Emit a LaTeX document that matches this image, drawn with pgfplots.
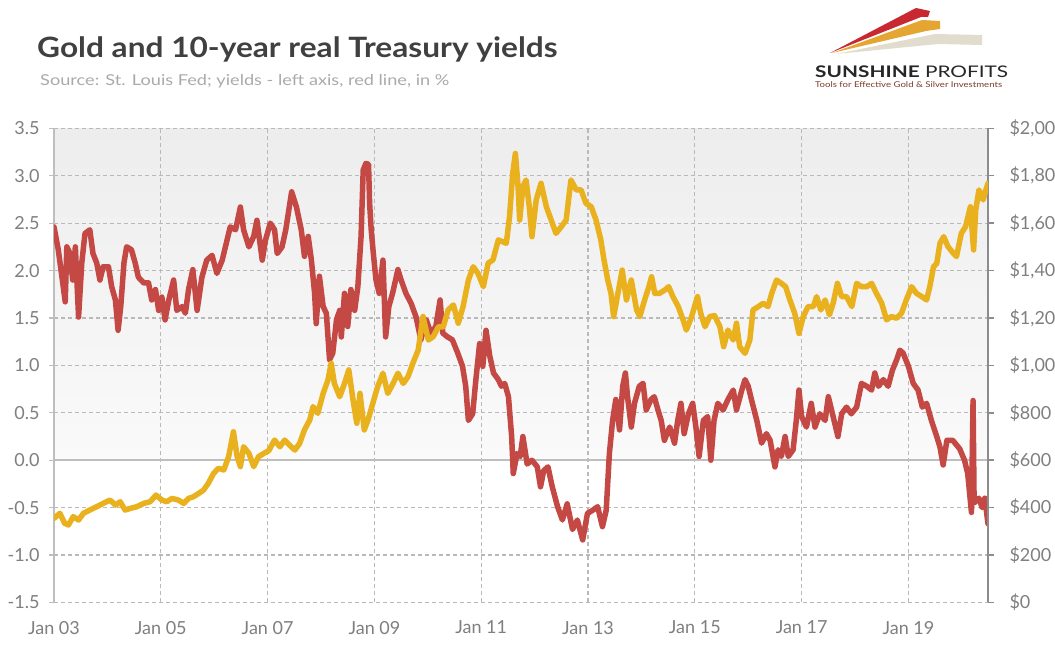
\documentclass[border=0pt]{standalone}
\usepackage{fontspec}
\setmainfont{Lato}
\usepackage{graphicx}
\usepackage{pgfplots}
\usepackage{pgfplotstable}
\pgfplotsset{compat=1.18}
\definecolor{redl}{RGB}{196,72,68}
\definecolor{goldl}{RGB}{233,177,30}
\definecolor{gridc}{RGB}{185,185,185}
\definecolor{tickc}{RGB}{127,127,127}
\definecolor{titlec}{RGB}{64,64,64}
\definecolor{subc}{RGB}{170,170,170}
\definecolor{axl}{RGB}{190,190,190}
\definecolor{axr}{RGB}{140,140,140}
\definecolor{logored}{RGB}{200,40,50}
\definecolor{logogold}{RGB}{228,165,50}
\definecolor{logobeige}{RGB}{225,220,205}
\definecolor{logotag}{RGB}{125,60,45}

\pgfplotstableread{
t v
2003.00 2.46
2003.08 2.22
2003.14 1.97
2003.21 1.67
2003.24 2.25
2003.30 2.18
2003.35 1.90
2003.40 2.25
2003.46 1.51
2003.52 2.08
2003.58 2.39
2003.67 2.43
2003.73 2.18
2003.80 2.08
2003.86 1.90
2003.92 2.04
2004.02 2.04
2004.08 1.83
2004.15 1.69
2004.20 1.37
2004.25 1.62
2004.31 2.08
2004.36 2.25
2004.45 2.22
2004.52 2.08
2004.58 1.93
2004.68 1.87
2004.77 1.87
2004.83 1.69
2004.90 1.80
2004.96 1.58
2005.02 1.72
2005.08 1.48
2005.15 1.69
2005.24 1.90
2005.30 1.58
2005.40 1.62
2005.46 1.55
2005.52 1.80
2005.60 2.01
2005.68 1.58
2005.77 1.93
2005.86 2.11
2005.96 2.16
2006.05 1.97
2006.15 2.11
2006.21 2.25
2006.30 2.46
2006.40 2.43
2006.49 2.67
2006.55 2.43
2006.65 2.25
2006.74 2.36
2006.80 2.53
2006.90 2.11
2006.96 2.32
2007.05 2.50
2007.13 2.43
2007.18 2.18
2007.27 2.25
2007.34 2.43
2007.45 2.83
2007.54 2.67
2007.63 2.43
2007.69 2.15
2007.76 2.36
2007.82 2.11
2007.88 1.76
2007.91 1.44
2007.97 1.94
2008.04 1.62
2008.10 1.55
2008.16 1.06
2008.22 1.13
2008.29 1.48
2008.35 1.58
2008.38 1.30
2008.44 1.76
2008.50 1.41
2008.56 1.80
2008.63 1.58
2008.69 1.83
2008.75 2.36
2008.79 3.06
2008.84 3.13
2008.89 3.12
2008.91 2.71
2008.94 2.43
2008.98 2.18
2009.03 1.90
2009.09 1.76
2009.16 2.11
2009.21 1.30
2009.27 1.62
2009.34 1.76
2009.44 2.01
2009.50 1.90
2009.59 1.76
2009.69 1.65
2009.78 1.51
2009.87 1.27
2009.97 1.48
2010.06 1.34
2010.15 1.41
2010.23 1.69
2010.28 1.34
2010.37 1.30
2010.46 1.27
2010.56 1.13
2010.65 0.99
2010.71 0.78
2010.76 0.42
2010.84 0.49
2010.90 0.85
2010.97 1.23
2011.03 0.99
2011.09 1.37
2011.16 1.10
2011.23 0.92
2011.32 0.85
2011.38 0.78
2011.44 0.81
2011.51 0.67
2011.57 0.25
2011.60 -0.14
2011.67 0.07
2011.73 0.04
2011.78 0.25
2011.86 -0.04
2011.95 0.00
2012.05 -0.07
2012.11 -0.28
2012.17 -0.11
2012.25 -0.07
2012.33 -0.28
2012.43 -0.49
2012.52 -0.63
2012.61 -0.46
2012.71 -0.73
2012.80 -0.63
2012.90 -0.84
2012.99 -0.56
2013.08 -0.53
2013.18 -0.49
2013.27 -0.70
2013.34 -0.53
2013.40 0.07
2013.46 0.42
2013.52 0.64
2013.59 0.32
2013.65 0.78
2013.70 0.92
2013.74 0.67
2013.81 0.35
2013.87 0.60
2013.96 0.78
2014.03 0.81
2014.09 0.53
2014.18 0.64
2014.24 0.67
2014.31 0.53
2014.37 0.42
2014.43 0.21
2014.53 0.35
2014.62 0.18
2014.68 0.42
2014.74 0.60
2014.80 0.28
2014.88 0.49
2014.96 0.60
2015.02 0.35
2015.08 0.04
2015.16 0.42
2015.24 0.46
2015.30 0.00
2015.36 0.42
2015.43 0.60
2015.53 0.53
2015.62 0.64
2015.72 0.74
2015.78 0.53
2015.88 0.74
2015.94 0.85
2016.00 0.78
2016.06 0.64
2016.16 0.42
2016.25 0.18
2016.34 0.28
2016.41 0.21
2016.50 -0.07
2016.56 0.11
2016.62 0.04
2016.69 0.25
2016.75 0.04
2016.84 0.11
2016.90 0.42
2016.95 0.74
2017.00 0.46
2017.09 0.35
2017.18 0.60
2017.25 0.35
2017.34 0.49
2017.44 0.42
2017.50 0.67
2017.59 0.46
2017.68 0.25
2017.75 0.49
2017.84 0.56
2017.93 0.49
2018.03 0.56
2018.12 0.81
2018.22 0.78
2018.31 0.74
2018.37 0.92
2018.44 0.78
2018.53 0.85
2018.62 0.78
2018.70 0.95
2018.78 1.06
2018.84 1.16
2018.90 1.13
2019.00 0.99
2019.09 0.81
2019.18 0.74
2019.26 0.56
2019.34 0.60
2019.43 0.42
2019.53 0.25
2019.59 0.14
2019.65 -0.05
2019.72 0.21
2019.83 0.21
2019.96 0.12
2020.05 0.00
2020.11 -0.14
2020.18 -0.55
2020.21 0.63
2020.23 -0.45
2020.32 -0.40
2020.38 -0.50
2020.43 -0.40
2020.49 -0.67
}\redtab

\pgfplotstableread{
t g
2003.00 355
2003.11 376
2003.20 334
2003.27 327
2003.36 362
2003.46 348
2003.55 376
2003.67 390
2003.80 404
2003.92 418
2004.05 432
2004.15 411
2004.24 425
2004.33 390
2004.43 397
2004.55 404
2004.68 418
2004.80 425
2004.91 453
2005.02 432
2005.11 425
2005.21 439
2005.33 432
2005.43 418
2005.52 439
2005.61 446
2005.71 460
2005.80 474
2005.89 503
2005.99 545
2006.08 566
2006.18 559
2006.27 615
2006.36 720
2006.43 615
2006.49 573
2006.55 657
2006.65 629
2006.74 573
2006.83 615
2006.93 629
2007.02 640
2007.13 685
2007.23 657
2007.32 685
2007.41 664
2007.51 643
2007.60 671
2007.69 728
2007.79 770
2007.85 826
2007.94 798
2008.04 882
2008.13 938
2008.19 1009
2008.25 924
2008.35 868
2008.44 924
2008.52 981
2008.60 854
2008.67 756
2008.73 882
2008.81 728
2008.88 770
2008.97 840
2009.06 910
2009.16 967
2009.25 882
2009.35 924
2009.44 967
2009.54 924
2009.63 953
2009.72 1009
2009.82 1065
2009.91 1206
2010.01 1107
2010.10 1121
2010.20 1163
2010.29 1163
2010.38 1234
2010.48 1255
2010.57 1178
2010.66 1248
2010.76 1360
2010.85 1416
2010.94 1388
2011.04 1332
2011.13 1431
2011.22 1445
2011.32 1529
2011.47 1515
2011.53 1627
2011.59 1810
2011.64 1894
2011.69 1754
2011.72 1613
2011.78 1754
2011.84 1782
2011.90 1669
2011.95 1543
2012.03 1698
2012.12 1768
2012.22 1669
2012.31 1613
2012.40 1557
2012.50 1585
2012.59 1613
2012.68 1782
2012.78 1740
2012.87 1740
2012.96 1684
2013.06 1669
2013.15 1613
2013.24 1529
2013.30 1444
2013.37 1360
2013.43 1304
2013.48 1206
2013.56 1304
2013.64 1402
2013.72 1276
2013.81 1360
2013.91 1234
2013.97 1206
2014.06 1276
2014.14 1332
2014.19 1374
2014.25 1304
2014.34 1304
2014.44 1318
2014.51 1332
2014.59 1290
2014.69 1248
2014.78 1192
2014.84 1149
2014.94 1206
2015.05 1290
2015.11 1220
2015.19 1163
2015.28 1206
2015.37 1210
2015.47 1163
2015.54 1079
2015.62 1149
2015.72 1107
2015.78 1178
2015.84 1079
2015.94 1051
2016.03 1107
2016.09 1234
2016.19 1248
2016.28 1262
2016.37 1248
2016.44 1304
2016.53 1360
2016.62 1346
2016.70 1332
2016.78 1276
2016.87 1220
2016.95 1135
2017.03 1206
2017.12 1248
2017.22 1248
2017.28 1290
2017.36 1234
2017.44 1276
2017.52 1213
2017.59 1262
2017.67 1346
2017.75 1290
2017.84 1290
2017.94 1248
2018.03 1346
2018.12 1332
2018.22 1332
2018.31 1346
2018.40 1304
2018.50 1262
2018.59 1192
2018.68 1206
2018.78 1199
2018.87 1220
2018.96 1276
2019.06 1332
2019.15 1304
2019.25 1290
2019.34 1276
2019.40 1332
2019.47 1416
2019.53 1430
2019.59 1515
2019.66 1543
2019.74 1501
2019.84 1473
2019.90 1459
2019.99 1557
2020.07 1585
2020.16 1669
2020.22 1487
2020.26 1655
2020.32 1740
2020.40 1698
2020.45 1740
2020.49 1768
}\goldtab

\begin{document}
\begin{tikzpicture}[x=1pt,y=1pt]
\useasboundingbox (0,0) rectangle (1055,653);
\fill[white] (0,0) rectangle (1055,653);
% plot background gradient
\shade[top color={rgb,255:red,237;green,237;blue,237}, bottom color={rgb,255:red,250;green,250;blue,250}] (54,192.7) rectangle (988,524.7);

% title & subtitle
\node[anchor=base west, inner sep=0, text=titlec, font=\fontsize{28}{30}\selectfont\bfseries] at (37,595.5) {\scalebox{1.13}[1]{Gold and 10-year real Treasury yields}};
\node[anchor=base west, inner sep=0, text=subc, font=\fontsize{15}{16}\selectfont] at (40,567.7) {\scalebox{1.21}[1]{Source: St. Louis Fed; yields - left axis, red line, in \%}};

% logo
\fill[logobeige] (836,599) -- (935,619) -- (982,618) -- (982,608) -- (938,609) -- cycle;
\fill[logogold] (832,600) -- (922,633) -- (940,632) -- (940,624) -- (926,622) -- cycle;
\fill[logored] (830,600) -- (916,645) -- (930,642) -- (928,636) -- (921,636) -- cycle;
\node[anchor=base west, inner sep=0, text=black!85, font=\fontsize{16}{18}\selectfont] at (815,575.7) {\scalebox{1.3}[1]{\textbf{SUNSHINE} PROFITS}};
\node[anchor=base west, inner sep=0, text=logotag, font=\fontsize{8}{9}\selectfont] at (815,565.7) {\scalebox{1.2}[1]{Tools for Effective Gold \& Silver Investments}};

\begin{axis}[
  at={(54pt,50.5pt)}, anchor=south west, scale only axis,
  width=934pt, height=474.2pt,
  xmin=2003, xmax=2020.49, ymin=-1.5, ymax=3.5,
  axis x line*=bottom, axis y line*=left,
  x axis line style={draw=none},
  y axis line style={draw=axl, line width=1.5pt},
  xtick={2003,2005,2007,2009,2011,2013,2015,2017,2019},
  xticklabels={Jan 03,Jan 05,Jan 07,Jan 09,Jan 11,Jan 13,Jan 15,Jan 17,Jan 19},
  ytick={-1.5,-1,-0.5,0,0.5,1,1.5,2,2.5,3,3.5},
  yticklabels={-1.5,-1.0,-0.5,0.0,0.5,1.0,1.5,2.0,2.5,3.0,3.5},
  grid=major,
  major grid style={draw=gridc, line width=1.2pt, dash pattern=on 4pt off 3pt},
  tick align=outside, major tick length=5pt,
  xtick style={draw=none},
  ytick style={draw=axl, line width=1.2pt},
  /pgf/number format/assume math mode=true,
  ticklabel style={font=\fontsize{18}{18}\selectfont, text=tickc},
  yticklabel style={xshift=-6pt},
  xticklabel style={yshift=-10pt},
]
\draw[axl, line width=1.5pt] (axis cs:2003,0) -- (axis cs:2020.49,0);
\addplot[redl, line width=5.5pt, line join=round, line cap=round] table[x=t,y=v]{\redtab};
\end{axis}

\begin{axis}[
  at={(54pt,50.5pt)}, anchor=south west, scale only axis,
  width=934pt, height=474.2pt,
  xmin=2003, xmax=2020.49, ymin=0, ymax=2000,
  axis x line=none, axis y line*=right,
  y axis line style={draw=axr, line width=1.8pt},
  ytick={0,200,400,600,800,1000,1200,1400,1600,1800,2000},
  yticklabels={\$0,\$200,\$400,\$600,\$800,{\$1,000},{\$1,200},{\$1,400},{\$1,600},{\$1,800},{\$2,000}},
  tick align=outside, major tick length=6pt,
  ytick style={draw=axr, line width=1.5pt},
  /pgf/number format/assume math mode=true,
  ticklabel style={font=\fontsize{18}{18}\selectfont, text=tickc},
  yticklabel style={xshift=12pt},
]
\addplot[goldl, line width=5.5pt, line join=round, line cap=round] table[x=t,y=g]{\goldtab};
\end{axis}
\end{tikzpicture}
\end{document}
